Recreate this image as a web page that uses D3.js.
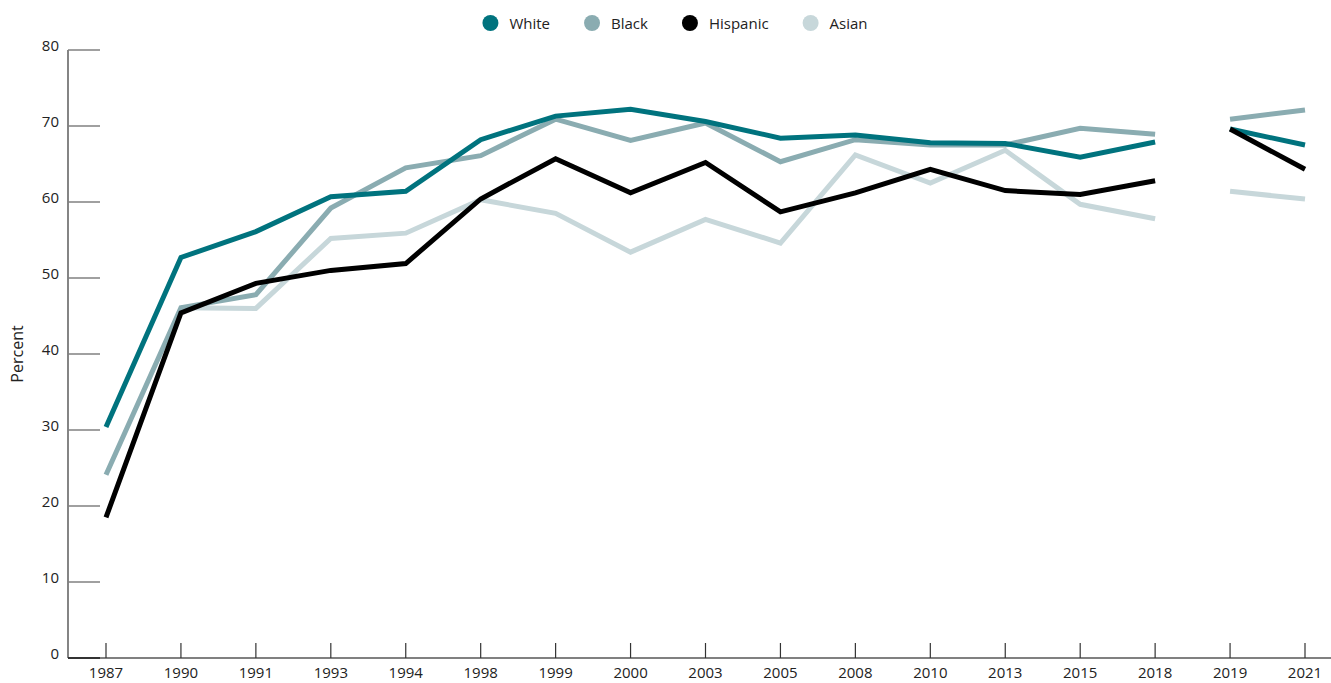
<!DOCTYPE html>
<html>
<head>
<meta charset="utf-8">
<script src="https://cdn.jsdelivr.net/npm/d3@7"></script>
<style>
  body { margin: 0; background: #fff; }
  svg { display: block; font-family: "Open Sans", sans-serif; }
</style>
</head>
<body>
<svg id="chart" width="1331" height="683"></svg>
<script>
// données
const years = ["1987", "1990", "1991", "1993", "1994", "1998", "1999", "2000", "2003",
  "2005", "2008", "2010", "2013", "2015", "2018", "2019", "2021"];
const white = [30.4, 52.7, 56.1, 60.7, 61.4, 68.2, 71.3, 72.2, 70.6, 68.4, 68.8, 67.8, 67.7, 65.9, 67.9, 69.6, 67.5];
const black = [24.1, 46.1, 47.8, 59.2, 64.5, 66.1, 70.9, 68.1, 70.4, 65.3, 68.2, 67.5, 67.5, 69.7, 68.9, 70.9, 72.1];
const hispanic = [18.5, 45.4, 49.3, 51.0, 51.9, 60.4, 65.7, 61.2, 65.2, 58.7, 61.2, 64.3, 61.5, 61.0, 62.8, 69.6, 64.3];
const asian = [null, 46.1, 46.0, 55.2, 55.9, 60.3, 58.5, 53.4, 57.7, 54.6, 66.2, 62.5, 66.8, 59.7, 57.8, 61.4, 60.4];
const yTicks = [0, 10, 20, 30, 40, 50, 60, 70, 80];
const breakAfter = "2018"; // pas de trait entre 2018 et 2019

const series = [
  { name: "White", values: white, color: "#00737e" },
  { name: "Black", values: black, color: "#8aacb1" },
  { name: "Hispanic", values: hispanic, color: "#000000" },
  { name: "Asian", values: asian, color: "#c7d7da" }
];
// ordre de dessin
const drawOrder = ["Asian", "Black", "White", "Hispanic"];

const svg = d3.select("#chart");

const x = d3.scalePoint().domain(years).range([106, 1305]);
const y = d3.scaleLinear().domain([0, 80]).range([658, 50]);
const axisX = 68;
const fs = 15;

// axe Y
const gy = svg.append("g");
gy.append("line")
  .attr("x1", axisX).attr("x2", axisX)
  .attr("y1", y(80)).attr("y2", y(0))
  .attr("stroke", "#333").attr("stroke-width", 1.2);
gy.selectAll("line.tick")
  .data(yTicks)
  .join("line")
  .attr("class", "tick")
  .attr("x1", axisX).attr("x2", 100)
  .attr("y1", (d) => y(d)).attr("y2", (d) => y(d))
  .attr("stroke", (d) => (d === 0 ? "#333" : "#808080"))
  .attr("stroke-width", 1.5);
gy.selectAll("text")
  .data(yTicks)
  .join("text")
  .attr("x", 59)
  .attr("y", (d) => y(d) + 1)
  .attr("text-anchor", "end")
  .attr("font-size", fs)
  .attr("fill", "#222")
  .text((d) => d);

svg.append("text")
  .attr("transform", `translate(23,${y(40)}) rotate(-90)`)
  .attr("text-anchor", "middle")
  .attr("font-size", 16)
  .attr("fill", "#222")
  .text("Percent");

// axe X
const gx = svg.append("g");
gx.append("line")
  .attr("x1", axisX).attr("x2", 1331)
  .attr("y1", y(0)).attr("y2", y(0))
  .attr("stroke", "#808080").attr("stroke-width", 2);
gx.append("line")
  .attr("x1", axisX).attr("x2", 100)
  .attr("y1", y(0)).attr("y2", y(0))
  .attr("stroke", "#333").attr("stroke-width", 2);
gx.selectAll("line.tick")
  .data(years)
  .join("line")
  .attr("class", "tick")
  .attr("x1", (d) => x(d)).attr("x2", (d) => x(d))
  .attr("y1", 643).attr("y2", y(0))
  .attr("stroke", "#333").attr("stroke-width", 1.2);
gx.selectAll("text")
  .data(years)
  .join("text")
  .attr("x", (d) => x(d))
  .attr("y", 678)
  .attr("text-anchor", "middle")
  .attr("font-size", fs)
  .attr("fill", "#222")
  .text((d) => d);

// lignes
const line = d3.line()
  .defined((d) => d.v !== null)
  .x((d) => x(d.year))
  .y((d) => y(d.v));

const cut = years.indexOf(breakAfter) + 1;
const gLines = svg.append("g");
drawOrder.forEach((name) => {
  const s = series.find((d) => d.name === name);
  const pts = years.map((yr, i) => ({ year: yr, v: s.values[i] }));
  [pts.slice(0, cut), pts.slice(cut)].forEach((seg) => {
    gLines.append("path")
      .datum(seg)
      .attr("d", line)
      .attr("fill", "none")
      .attr("stroke", s.color)
      .attr("stroke-width", 5)
      .attr("stroke-linejoin", "miter");
  });
});

// légende
const legend = svg.append("g");
let lx = 0;
series.forEach((s) => {
  const item = legend.append("g").attr("transform", `translate(${lx},0)`);
  item.append("circle").attr("cx", 8).attr("cy", 23).attr("r", 8).attr("fill", s.color);
  const t = item.append("text")
    .attr("x", 27).attr("y", 28.5)
    .attr("font-size", fs).attr("fill", "#222")
    .text(s.name);
  lx += 27 + t.node().getComputedTextLength() + 34;
});
const lw = lx - 34;
legend.attr("transform", `translate(${675 - lw / 2},0)`);
</script>
</body>
</html>
